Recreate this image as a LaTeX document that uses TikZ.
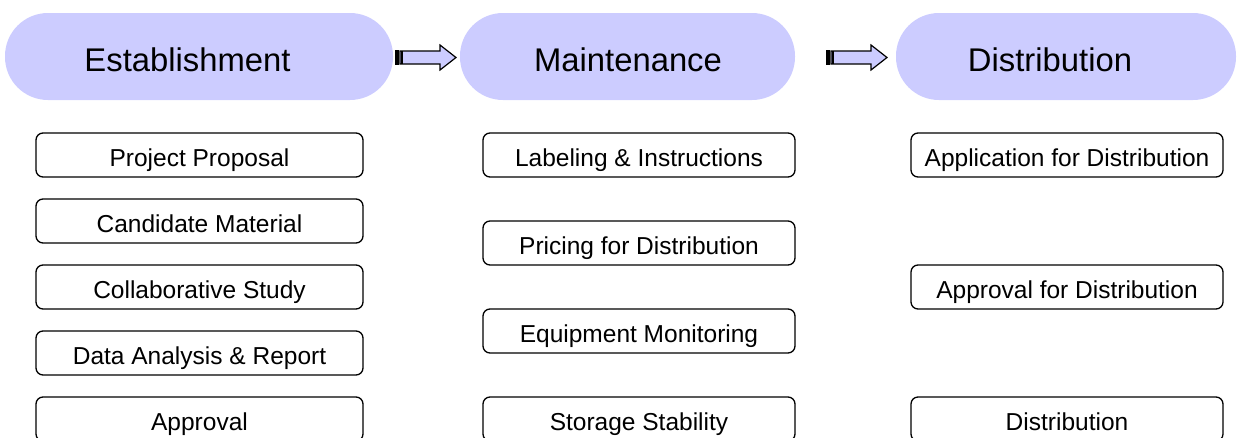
\documentclass[tikz,border=0pt]{standalone}
\usepackage{fontspec}
\setmainfont{Liberation Sans}
\definecolor{lav}{HTML}{CCCCFF}
\begin{document}
\begin{tikzpicture}[x=1pt,y=-1pt,
  phase/.style={fill=lav,draw=none,rounded corners=43pt,minimum height=87pt,inner sep=0pt},
  phasetext/.style={font=\fontsize{32.8}{36}\selectfont,inner sep=0pt,text height=23.5pt,text depth=0pt},
  task/.style={draw=black,line width=1.3pt,rounded corners=7pt,minimum height=44pt,inner sep=0pt,font=\fontsize{24.5}{28}\selectfont,text height=22.5pt,text depth=0pt},
  w1/.style={minimum width=327pt},
  w2/.style={minimum width=312pt},
  blockarrow/.style={fill=lav,draw=black,line width=1.2pt,line join=miter}]
\useasboundingbox (0,0) rectangle (1237,437);
\begin{scope}
\clip (0,0) rectangle (1237,437);
% phase shapes
\node[phase,minimum width=388pt] (est) at (199,56.5) {};
\node[phase,minimum width=335pt] (mai) at (627.5,56.5) {};
\node[phase,minimum width=340pt] (dis) at (1066,56.5) {};
\node[phasetext] (estt) at (187.5,59.5) {Establishment};
\node[phasetext] (mait) at (628,59.5) {Maintenance};
\node[phasetext] (dist) at (1050,59.5) {Distribution};
% block arrows
\foreach \n/\x in {a1/395,a2/826}{
  \draw[blockarrow] (\x+5,51) -- (\x+45,51) -- (\x+45,45) -- (\x+61,57.5) -- (\x+45,70) -- (\x+45,64) -- (\x+5,64) -- cycle;
  \fill[black] (\x,50.3) rectangle (\x+4,64.7);
  \draw[black,line width=1.2pt] (\x+7,51) -- (\x+7,64);
}
% column 1
\node[task,w1] (p1) at (199.5,155) {Project Proposal};
\node[task,w1] (p2) at (199.5,221) {Candidate Material};
\node[task,w1] (p3) at (199.5,287) {Collaborative Study};
\node[task,w1] (p4) at (199.5,353) {Data Analysis \& Report};
\node[task,w1] (p5) at (199.5,419) {Approval};
% column 2
\node[task,w2] (m1) at (639,155) {Labeling \& Instructions};
\node[task,w2] (m2) at (639,243) {Pricing for Distribution};
\node[task,w2] (m3) at (639,331) {Equipment Monitoring};
\node[task,w2] (m4) at (639,419) {Storage Stability};
% column 3
\node[task,w2] (d1) at (1067,155) {Application for Distribution};
\node[task,w2] (d2) at (1067,287) {Approval for Distribution};
\node[task,w2] (d3) at (1067,419) {Distribution};
\end{scope}
\end{tikzpicture}
\end{document}
